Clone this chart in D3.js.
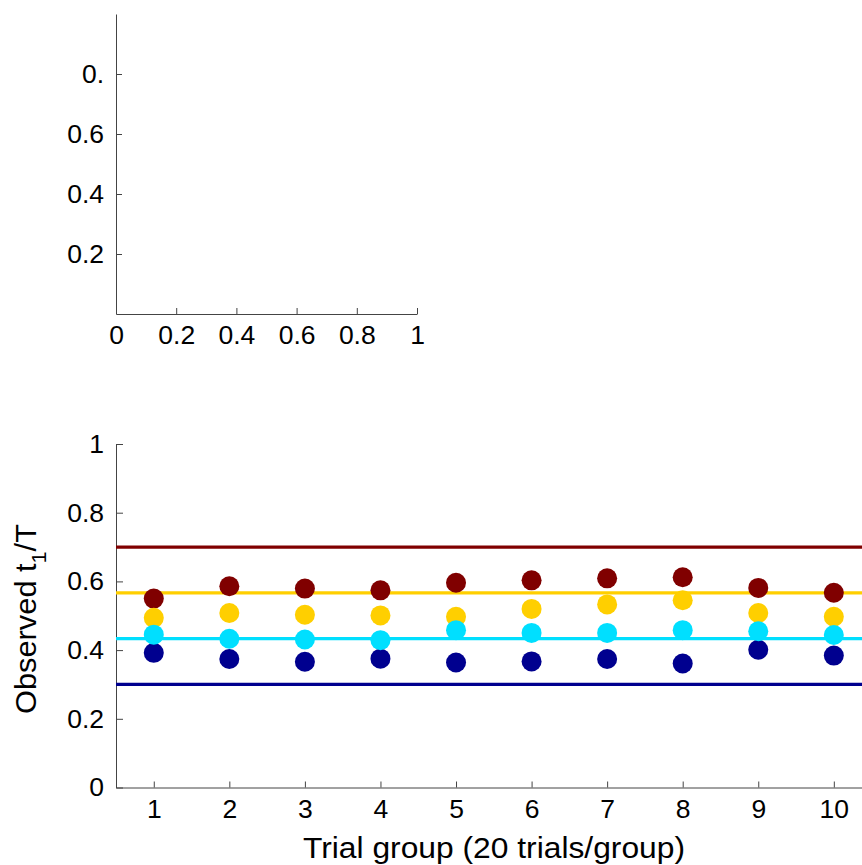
<!DOCTYPE html>
<html>
<head>
<meta charset="utf-8">
<script src="https://cdn.jsdelivr.net/npm/d3@7"></script>
<style>
  html, body { margin: 0; padding: 0; background: #fff; overflow: hidden; }
  svg text { font-family: "Liberation Sans", Arial, Helvetica, sans-serif; fill: #000; }
</style>
</head>
<body>
<svg id="chart" width="862" height="865"></svg>
<script>
// trial groups on the x axis
var groups = [1, 2, 3, 4, 5, 6, 7, 8, 9, 10];

// target t1/T for each condition (horizontal lines)
var targets = [0.3, 0.4333, 0.5667, 0.7];

// observed t1/T per group, one array per condition
var obsNavy = [0.392, 0.374, 0.366, 0.375, 0.364, 0.367, 0.374, 0.361, 0.401, 0.384];
var obsCyan = [0.445, 0.433, 0.431, 0.429, 0.458, 0.450, 0.450, 0.458, 0.455, 0.444];
var obsGold = [0.494, 0.508, 0.503, 0.501, 0.497, 0.520, 0.533, 0.545, 0.508, 0.497];
var obsRed  = [0.550, 0.586, 0.579, 0.574, 0.596, 0.603, 0.609, 0.612, 0.581, 0.567];

var colors = ["#00008f", "#00dfff", "#ffcf00", "#800000"];

// y tick labels of the small empty axes (top one is cut in the original)
var topYTicks = [0.2, 0.4, 0.6, 0.8];
var topYLabels = ["0.2", "0.4", "0.6", "0."];
var topXTicks = [0, 0.2, 0.4, 0.6, 0.8, 1];
var mainYTicks = [0, 0.2, 0.4, 0.6, 0.8, 1];

var svg = d3.select("#chart");
var axisColor = "#444";
var fontSize = 26.5;

function styleAxis(g) {
    g.selectAll("path, line").attr("stroke", axisColor).attr("stroke-width", 1);
    g.selectAll("text").attr("font-size", fontSize).attr("fill", "#000");
}

/*
 * Top small axes (empty).
 */
var tx = d3.scaleLinear().domain([0, 1]).range([116, 417]);
var ty = d3.scaleLinear().domain([0, 1]).range([314, 14]);

svg.append("g")
    .attr("transform", "translate(0," + ty(0) + ")")
    .call(d3.axisBottom(tx).tickValues(topXTicks).tickSizeInner(-6).tickSizeOuter(0)
          .tickPadding(11).tickFormat(d3.format("")))
    .call(styleAxis);

svg.append("g")
    .attr("transform", "translate(" + tx(0) + ",0)")
    .call(d3.axisLeft(ty).tickValues(topYTicks).tickSizeInner(-6).tickSizeOuter(0)
          .tickPadding(12).tickFormat(function(d, i) { return topYLabels[i]; }))
    .call(styleAxis);

/*
 * Main axes.
 */
var x = d3.scaleLinear().domain([0.5, 10.5]).range([116, 871.6]);
var y = d3.scaleLinear().domain([0, 1]).range([787.5, 444]);

svg.append("g")
    .attr("transform", "translate(0," + y(0) + ")")
    .call(d3.axisBottom(x).tickValues(groups).tickSizeInner(-6).tickSizeOuter(0)
          .tickPadding(12).tickFormat(d3.format("d")))
    .call(styleAxis);

svg.append("g")
    .attr("transform", "translate(" + x(0.5) + ",0)")
    .call(d3.axisLeft(y).tickValues(mainYTicks).tickSizeInner(-7).tickSizeOuter(0)
          .tickPadding(12).tickFormat(d3.format("")))
    .call(styleAxis);

// target lines
svg.selectAll()
    .data(targets)
    .enter()
    .append("line")
    .attr("x1", x(0.5))
    .attr("x2", x(10.5))
    .attr("y1", function(d) { return y(d); })
    .attr("y2", function(d) { return y(d); })
    .attr("stroke", function(d, i) { return colors[i]; })
    .attr("stroke-width", 3.2);

// observed points, drawn in an order that keeps cyan on top
var series = [
    {values: obsRed, color: colors[3]},
    {values: obsGold, color: colors[2]},
    {values: obsNavy, color: colors[0]},
    {values: obsCyan, color: colors[1]}
];

series.forEach(function(s) {
    svg.selectAll()
        .data(s.values)
        .enter()
        .append("circle")
        .attr("cx", function(d, i) { return x(groups[i]); })
        .attr("cy", function(d) { return y(d); })
        .attr("r", 10)
        .attr("fill", s.color);
});

// axis labels
svg.append("text")
    .attr("x", 303)
    .attr("y", 858)
    .attr("font-size", 29)
    .attr("textLength", 382)
    .attr("lengthAdjust", "spacingAndGlyphs")
    .text("Trial group (20 trials/group)");

var yl = svg.append("text")
    .attr("transform", "translate(36,714) rotate(-90)")
    .attr("font-size", 30)
    .attr("textLength", 190)
    .attr("lengthAdjust", "spacingAndGlyphs");
yl.append("tspan").text("Observed t");
yl.append("tspan").attr("font-size", 21).attr("dy", 10).text("1");
yl.append("tspan").attr("dy", -10).text("/T");
</script>
</body>
</html>
